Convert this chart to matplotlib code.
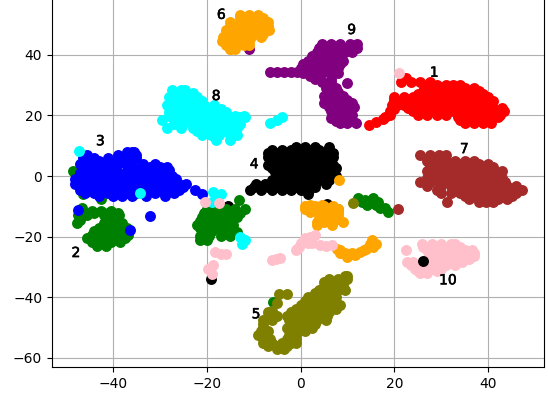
import matplotlib
matplotlib.use("Agg")
import matplotlib.pyplot as plt
import matplotlib.patheffects as pe

# t-SNE clusters, one row of x values per y value
purple_y = [41.8, 43.5, 42.3, 41, 39.5, 38, 37, 35.5, 34.2, 34, 33, 32, 31, 30.6, 29, 27.8, 26.5, 25.2, 24, 22.8, 21.5, 20.2, 19, 18.2, 17.4]
purple_x = [[-11.1], [4.5, 6.5, 8.5, 10.5, 12], [4, 6, 8, 10, 12], [3.5, 5.5, 7.5, 9.5, 11], [2.5, 4.5, 6.5, 8.5],
            [1.5, 3.5, 5.5, 7.5, 9], [0.5, 2.5, 4.5, 6.5, 8.5], [0, 2, 4, 6, 8], [-6.5, -5, -3.6, -2, -0.8],
            [0.5, 2.5, 4.5, 6.5, 8], [2], [3, 6.5], [4.5, 6.5], [10], [5.5, 7.5], [6, 8], [5, 7, 9], [6, 8, 10],
            [5, 7, 9, 11], [6, 8, 10, 11.3], [6.5, 8.5, 10.5], [7.5, 9.5, 11], [6.5, 8.5, 10.5], [7.5, 9.5], [8.4, 10, 11.8]]

black_y = [-33.8, -9.9, -9.1, 9.5, 8.5, 7.5, 6.2, 5, 3.8, 2.5, 1.2, 0, -1.2, -2.5, -3.5, -4.5, -6]
black_x = [[-19.2], [-15.4], [5.6], [-1, 1, 3, 6], [-6, -4, -2, 0, 2, 4, 6], [-7, -5, -3, -1, 1, 3, 5, 7],
           [-7, -5, -3, -1, 1, 3, 5, 7], [-6, -4, -2, 0, 2, 4, 6], [-7, -5, -3, -1, 1, 3, 5, 7],
           [-6, -4, -2, 0, 2, 4, 6, 7.5], [-5.5, -3.5, -1.5, 0.5, 2.5, 4.5, 6.5],
           [-4.5, -2.5, -0.5, 1.5, 3.5, 5.5, 7.5], [-6, -4, -2, 0, 2, 4, 6],
           [-9.5, -7.5, -5, -3, -1, 1, 3, 5.5], [-10, -8, -7, -5, -3, -1, 1, 3],
           [-10.7, -8.5, -6, -4, -2, 0, 1.7], [1.5]]

green_y = [-6, -7.4, 1.7, -41.6, -10.5, -11.5, -12.3, -13, -14.5, -15.5, -17, -18, -19.3, -20.5, -21.8, -23,
           -8, -11, -12.3, -13.5, -14.8, -16, -17.2, -18.5, -19.8, -21,
           -7.2, -8, -8.6, -9.7, -10.4, -11.8]
green_x = [[-46.3], [-42.6], [-48.6], [-5.9], [-46.5], [-44.5, -42.5, -40.5], [-46, -44, -41, -39],
           [-47.5, -45.5, -42, -40, -38.8], [-47, -41, -39], [-47.7, -42, -40, -38], [-43, -41, -39, -37],
           [-44, -42, -40, -38, -36.8], [-44.5, -42.5, -40.5, -38.5, -36.8], [-45.5, -43.5, -41.5, -39.5, -37.5],
           [-44.5, -42.5, -40.5, -38.5], [-43.5, -41.5],
           [-13.2], [-20, -18, -16, -14, -11.8], [-20.5, -18.5, -16.5, -14.5, -13], [-21, -19, -17, -15, -13.5],
           [-21.5, -19.5, -17.5, -15.5], [-22, -20, -18, -16, -14.5], [-21.5, -19.5, -17.5, -15.5],
           [-21, -19, -17, -15, -13.6], [-21.5, -19.5, -17, -15], [-21.5, -20],
           [12.3, 15.5], [13.8], [13.2, 16.6], [14.1, 16], [17, 18], [18.7]]

blue_y = [-11.1, 8, 7, 6, 5, 4, 3, 2, 1, 0, -1, -2.5, -3.5, -4.5, -5.5, -6.5, -13.2, -17.9, -4.7, -5.8]
blue_x = [[-47.4], [-37, -36, -35.5], [-45.5, -39, -37, -35], [-46.3, -44, -41, -39, -37, -35], [-45.5, -43, -41, -38, -36],
          [-47, -45, -43, -41, -39, -37, -33.5, -31], [-46, -44, -42, -40, -36, -34, -32, -30, -28.5],
          [-46, -44, -42, -40, -37, -35, -33, -31, -29, -28], [-47, -45, -43, -41, -39, -36, -34, -32, -30, -28],
          [-47, -45, -43, -41, -39, -37, -35, -33, -31, -29, -27.5],
          [-48, -46, -44, -42, -40, -38, -36, -34, -32, -30, -28, -26.5],
          [-48, -46, -44, -42, -40, -38, -36, -34, -32, -30, -28, -26, -24.5],
          [-47, -45, -43, -41, -39, -37, -35, -33, -31, -29, -27, -25],
          [-47, -45, -43, -40, -38, -36, -34, -32, -30, -28, -26], [-46, -44, -41, -39, -37, -35, -33, -31, -29, -27],
          [-43, -40, -38, -36, -33, -29],
          [-32.2], [-36.3], [-22.5], [-21]]

olive_y = [-9, -11, -38.8, -33, -34, -35, -36.2, -37.5, -38.7, -40, -41.2, -42, -42.5, -43.7, -44.5, -45, -46.2, -47.5, -48.7, -50, -51.2, -52.5, -53.8, -55, -56, -57]
olive_x = [[11.1], [7.9], [-4.5, -2.8], [9.5, 10], [6, 8, 10], [5, 7, 9], [5, 7, 9], [4, 6, 8, 9.5], [3, 5, 7],
           [1.5, 3.5, 5.5, 7.5], [1, 3, 5, 7], [-5], [0, 2, 4, 6, 8.4], [-1, 1, 3, 5, 7.5], [-6],
           [-7, -2, 0, 2, 4, 6], [-7, -5, -3, -1, 1, 3, 5, 5.6], [-8, -6, -2.5, -0.5, 1.5, 3.5, 5.5],
           [-8, -1, 1, 3], [-8, -3, -1.5, 0.5, 2.5], [-8.5, -7, -1, 1], [-9, -7.5, -2.5, -1], [-8, -6.5, -3, -1],
           [-8, -6, -4, -2, -1], [-7, -5, -3], [-5, -3.5]]

orange_y = [-1.4, 53, 52, 50.8, 49.5, 48.2, 47, 45.8, 44.5, 43.3, 42, 41.8, -9.5, -10, -11, -12, -13, -14, -15, -16,
            -23.9, -24.5, -25.5, -26.7, -26, -25.5, -25, -24.5, -24, -23.4, -22.5, -21.2]
orange_x = [[8.1], [-13, -11, -9], [-13, -11.5, -10, -8], [-15, -13, -11, -9, -7], [-15, -13, -11, -9, -7],
            [-16, -14, -12, -10, -8, -6.8], [-16, -14, -12, -10, -8], [-16.5, -14.5, -12.5, -10.5, -8.5],
            [-16.8, -15, -13, -11], [-16, -14, -12, -11], [-15, -14], [-15], [2, 4.5], [1, 3, 5, 7], [1, 3, 5, 7, 8],
            [2, 4, 6, 8], [4, 6, 8], [4, 6, 8], [3.5, 5, 7, 9], [3.5, 6.7],
            [7.7], [8.5], [8.5, 9.5], [10], [11.5], [11], [12.7], [13.5], [14], [15.5], [14.8, 16], [15.2]]

brown_y = [-10.9, 7, 5, 4, 3, 1.8, 0.5, -0.8, -2, -3.2, -4.5, -5.5, -6.5, -7.5, -8.5]
brown_x = [[20.7], [25.5, 27.5, 29.5, 31], [27, 29, 31, 33, 35, 37], [28, 30, 32, 34, 36, 38, 40],
           [27.5, 29.5, 31.5, 33.5, 35.5, 37.5, 39.5, 41], [27, 29, 31, 33, 35, 37, 39, 41, 43],
           [28, 30, 32, 34, 36, 38, 40, 42], [27, 29, 31, 33, 35, 37, 39, 41, 43],
           [25.5, 27.5, 29.5, 31.5, 33.5, 35.5, 37.5, 39.5, 41.5, 43.5], [27, 30, 32, 34, 36, 38, 40, 42, 44, 46],
           [29, 33, 35, 37, 39, 41, 43, 45, 47.2], [30, 32, 34, 36, 38, 40, 42, 44, 46], [35, 37, 39, 41, 43, 45],
           [36, 38, 40, 42, 44], [31.2, 38, 39.5, 41]]

red_y = [16.8, 17.8, 18.8, 19.5, 20, 21.5, 22, 23.5, 24.8, 26, 32.5, 31, 30, 29, 28, 27, 25, 23.5, 22.5, 21.5, 20.2, 19.5, 18.5, 17.5]
red_x = [[14.6], [16], [17.5], [18], [19], [19], [20], [20.5], [21, 23, 25, 27, 29, 31, 33, 35, 37, 39, 41],
         [20, 22, 24, 26, 28, 30, 32, 34, 36, 38, 40], [22.5], [21.5, 23.5, 25.5, 27.5], [27, 29, 31, 32.5, 34],
         [27, 29, 31, 33, 35, 37], [26, 28, 30, 32, 34, 36, 38], [25, 27, 29, 31, 33, 35, 37, 39], [20],
         [19.5, 22, 24, 26, 28, 30, 32, 34, 36, 38, 40], [23, 25, 27, 29, 31, 33, 35, 37, 39, 41, 43],
         [24, 26, 28, 30, 32.5, 34, 36, 38, 40, 42, 43.3], [25, 27, 29, 31, 34.5, 36.5, 38.5, 40.5, 42.5],
         [33.5, 35, 37, 39, 41, 42], [34, 36, 38, 40], [35, 37, 39, 40.5]]

cyan_y = [8.3, -5.5, -5.2, -5.8, -7.5, -8.7, -22.3, -21.2, -20, 17.6, 18.5, 19.4,
          28.5, 27.3, 26, 24.8, 23.5, 22.2, 21, 19.7, 18.5, 19.5, 17.2, 16, 14.8, 13.5, 12]
cyan_x = [[-47.2], [-34.3], [-18.6], [-17], [-18], [-18.9], [-12.5], [-11.9], [-12.9], [-6.5], [-5], [-3.9],
          [-27.4, -25.5, -24.6], [-27, -25, -23], [-28, -26, -24, -22], [-27, -25, -23, -21],
          [-28.5, -26.5, -24.5, -22.5, -20.5, -18.5], [-27, -25, -23, -21, -19, -17],
          [-28, -26, -24, -22, -20, -18, -16], [-28, -26, -24, -22, -20, -18, -16, -14, -12],
          [-29.6, -27, -25, -23, -21, -19, -17, -15], [-13, -11.8], [-27, -25, -23, -21, -19, -17, -15, -13],
          [-28.5, -25.5, -23, -21, -19, -17, -15, -13.5], [-22, -20, -18, -16, -14], [-21, -19, -17.5, -15, -13.5], [-18, -15]]

pink_y = [-22.3, -23.5, -24.5, -25.5, -26.5, -27.5, -28.5, -29.5, -30.5, -31.3, -32,
          -19.5, -20.5, -20, -22, -23.4, -22.9, -23, -23.9, -24.5, -27.6, -27.3, -27, -25.8, -25, -25.6, -29.4, -30.8, -32.3, -8.5, -9, 33.9]
pink_x = [[25.9, 28, 30, 32, 33], [26, 28, 30, 32, 34], [22.4, 27, 29, 31, 33, 35, 36.5], [28, 30, 32, 34, 36, 37],
          [28, 30, 32, 34, 36.9], [27, 29, 31, 33, 35, 36], [22.6, 24, 28, 30, 32, 34.4], [23.5, 25.5, 27, 29, 31, 33],
          [24.5, 26.5, 28, 30], [25, 27, 29], [25.5, 26.9],
          [3.1], [1], [2], [0, 1.5, 2.5], [-0.4], [4.2, 6.7], [5.5], [-0.8], [-1], [-6.1], [-5.2], [-4.3], [-17], [-18.2], [-16],
          [-18.6], [-19.8], [-18.9], [-20.3], [-17.5], [20.9]]

stray_black_y = [-28.1]
stray_black_x = [[26.2]]

# drawn back to front
clusters = [
    (purple_x, purple_y, "purple"),
    (black_x, black_y, "black"),
    (green_x, green_y, "green"),
    (blue_x, blue_y, "blue"),
    (olive_x, olive_y, "olive"),
    (orange_x, orange_y, "orange"),
    (brown_x, brown_y, "brown"),
    (red_x, red_y, "red"),
    (cyan_x, cyan_y, "cyan"),
    (pink_x, pink_y, "pink"),
    (stray_black_x, stray_black_y, "black"),
]

label_text = ["1", "2", "3", "4", "5", "6", "7", "8", "9", "10"]
label_x = [28.5, -47.9, -42.7, -9.9, -9.5, -16.9, 34.9, -18, 10.9, 31.4]
label_y = [34.1, -25.4, 11.5, 3.9, -45.6, 53.2, 8.9, 26.4, 48.2, -34.4]


def expand_rows(row_xs, row_ys):
    xs = []
    ys = []
    for row, y in zip(row_xs, row_ys):
        for x in row:
            xs.append(x)
            ys.append(y)
    return xs, ys


fig = plt.figure(figsize=(5.49, 3.96), dpi=100)
ax = fig.add_axes([52 / 549, (396 - 367) / 396, 492 / 549, 367 / 396])

for row_xs, row_ys, colour in clusters:
    xs, ys = expand_rows(row_xs, row_ys)
    ax.scatter(xs, ys, c=colour, s=62, linewidths=0)

for text, x, y in zip(label_text, label_x, label_y):
    ax.text(x, y, text, ha="center", va="center", fontsize=10, color="black",
            path_effects=[pe.withStroke(linewidth=0.4, foreground="black")])

ax.set_xlim(-53.0, 51.9)
ax.set_ylim(-63.0, 58.1)
ax.set_xticks([-40, -20, 0, 20, 40])
ax.set_yticks([-60, -40, -20, 0, 20, 40])
ax.set_axisbelow(True)
ax.grid(True)
ax.spines["top"].set_visible(False)

fig.savefig("out.png", dpi=100)
